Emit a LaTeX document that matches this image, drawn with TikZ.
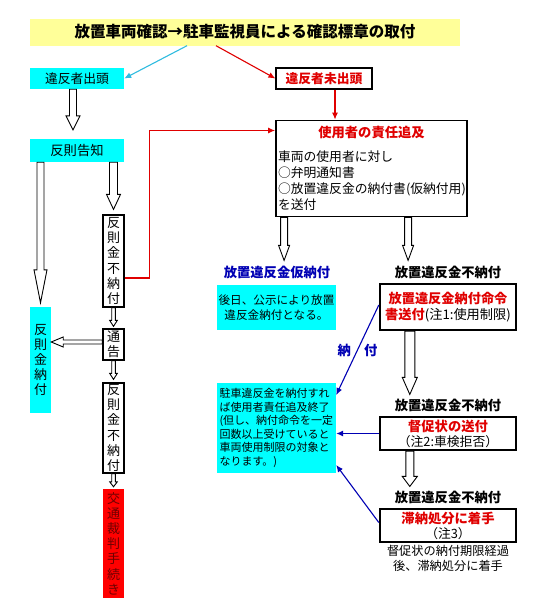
\documentclass[tikz,border=0pt]{standalone}
\usepackage{fontspec}
\setmainfont{Noto Sans CJK JP}
\usetikzlibrary{arrows.meta,calc,positioning}

\definecolor{banner}{HTML}{FFFF99}
\definecolor{aqua}{HTML}{00FFFF}
\definecolor{navy}{HTML}{0000B4}
\definecolor{alert}{HTML}{E00000}
\definecolor{sky}{HTML}{30BCE0}
\definecolor{darkred}{HTML}{700000}

\newcommand\ftitle{\fontsize{15.5}{18}\selectfont}
\newcommand\fbody{\fontsize{12.8}{16}\selectfont}
\newcommand\fvert{\fontsize{13}{15.2}\selectfont}
\newcommand\fsmall{\fontsize{11}{13.5}\selectfont}
\newcommand\fhead{\fontsize{13.3}{16}\selectfont}

\tikzset{
  hshaft/.store in=\hshaft, hhead/.store in=\hhead, hlen/.store in=\hlen,
  hshaft=3pt, hhead=7pt, hlen=14pt,
  hollow/.style={draw, fill=white, line width=0.9pt, line join=miter, to path={
    let \p1=(\tikztostart), \p2=(\tikztotarget), \n1={atan2(\y2-\y1,\x2-\x1)} in
    ($(\p1)+({\n1+90}:\hshaft)$) -- ($(\p2)+({\n1+180}:\hlen)+({\n1+90}:\hshaft)$)
    -- ($(\p2)+({\n1+180}:\hlen)+({\n1+90}:\hhead)$) -- (\p2)
    -- ($(\p2)+({\n1+180}:\hlen)+({\n1-90}:\hhead)$)
    -- ($(\p2)+({\n1+180}:\hlen)+({\n1-90}:\hshaft)$)
    -- ($(\p1)+({\n1-90}:\hshaft)$) -- cycle}}
}

\begin{document}
\begin{tikzpicture}[x=1pt, y=-1pt,
    every node/.style={font=\fbody},
    cbox/.style={fill=aqua, inner sep=0pt, align=center},
    frame/.style={draw, line width=1.2pt, fill=white, inner sep=0pt, align=center},
    heavy/.style={draw, line width=2.4pt, fill=white, inner sep=0pt, align=center},
    vert/.style={minimum width=21pt, font=\fvert},
    label/.style={font=\fhead\bfseries, inner sep=1pt},
    arr/.style={-{Latex[length=7pt,width=6pt]}, line width=1.1pt}
]
\fill[white] (0,0) rectangle (540,605);
\useasboundingbox (0,0) rectangle (540,605);

\node[fill=banner, minimum width=430pt, minimum height=27pt, font=\ftitle\bfseries] (title) at (245,32) {放置車両確認→駐車監視員による確認標章の取付};

\node[cbox, minimum width=94pt, minimum height=21pt] (appear) at (77,78.5) {違反者出頭};
\node[frame, minimum width=96pt, minimum height=21pt, text=alert, font=\fbody\bfseries] (noappear) at (324,78.5) {違反者未出頭};
\node[cbox, minimum width=94pt, minimum height=23pt, font=\fontsize{13.3}{16}\selectfont] (notice) at (77,150.5) {反則告知};

\node[draw, line width=1.8pt, minimum width=191pt, minimum height=96pt, text width=187pt, align=left, inner sep=1.5pt] (owner) at (371.5,168.5)
  {\makebox[187pt]{\textcolor{alert}{\fhead\bfseries 使用者の責任追及}}\\[8pt]
   車両の使用者に対し\\○弁明通知書\\○放置違反金の納付書(仮納付用)\\を送付};

\node[frame, vert, minimum height=92pt] (unpaid1) at (113.5,261) {反\\則\\金\\不\\納\\付};
\node[cbox, vert, minimum height=106pt] (paid) at (40.5,360) {反\\則\\金\\納\\付};
\node[frame, vert, minimum height=31pt] (notify) at (113.5,344.5) {通\\告};
\node[frame, vert, minimum height=90pt] (unpaid2) at (113.5,428) {反\\則\\金\\不\\納\\付};
\node[fill=red, text=darkred, inner sep=0pt, align=center, vert, minimum height=109pt] (court) at (113.5,543.5) {交\\通\\裁\\判\\手\\続\\き};

\node[label, text=navy] (provpaid) at (277,272) {放置違反金仮納付};
\node[label] (unpaidA) at (448,272) {放置違反金不納付};
\node[cbox, minimum width=119pt, minimum height=45pt, font=\fontsize{11.6}{14.5}\selectfont] (public) at (276.5,307.5) {後日、公示により放置\\違反金納付となる。};
\node[heavy, minimum width=136pt, minimum height=46pt, font=\fontsize{13.2}{16}\selectfont] (order) at (448,307)
  {\textcolor{alert}{\bfseries 放置違反金納付命令}\\\textcolor{alert}{\bfseries 書送付}(注1:使用制限)};
\node[label] (unpaidB) at (448,405) {放置違反金不納付};
\node[heavy, minimum width=136pt, minimum height=33pt, font=\fontsize{12.8}{15}\selectfont] (remind) at (448,433.5) {\textcolor{alert}{\bfseries\fhead 督促状の送付}\\（注2:車検拒否）};
\node[label] (unpaidC) at (448,497) {放置違反金不納付};
\node[heavy, minimum width=136pt, minimum height=33pt, font=\fontsize{12.8}{15}\selectfont] (seize) at (448,525.5) {\textcolor{alert}{\bfseries\fhead 滞納処分に着手}\\（注3）};
\node[align=center, inner sep=0pt, font=\fontsize{12.2}{15}\selectfont] (deadline) at (448,558) {督促状の納付期限経過\\後、滞納処分に着手};
\node[cbox, minimum width=119pt, minimum height=90pt, text width=114pt, align=left, font=\fsmall] (settle) at (276.5,428)
  {駐車違反金を納付すれ\\ば使用者責任追及終了\\(但し、納付命令を一定\\回数以上受けていると\\車両使用制限の対象と\\なります。)};

\draw[arr, sky] ([xshift=-58pt]title.south) -- (appear.east);
\draw[arr, alert] ([xshift=-29pt]title.south) -- (noappear.west);
\draw[arr, alert] ([xshift=11pt]noappear.south) -- ([xshift=11pt]noappear.south |- owner.north);
\draw[arr, alert] ([yshift=-17pt]unpaid1.east) -- ++(25pt,0) |- ([yshift=38pt]owner.west);

\draw[hollow, hshaft=3.5pt, hhead=7pt, hlen=14pt] ([xshift=-4pt]appear.south) to ([xshift=-4pt, yshift=9pt]appear.south |- notice.north);
\draw[hollow, hshaft=3.5pt, hhead=6.5pt, hlen=33pt] (notice.south -| paid.north) to ([yshift=4pt]paid.north);
\draw[hollow, hshaft=4pt, hhead=7pt, hlen=15pt] (notice.south -| unpaid1.north) to ([yshift=5pt]unpaid1.north);
\draw[hollow, hshaft=1.8pt, hhead=3.8pt, hlen=6pt] (unpaid1.south) to ([yshift=2pt]notify.north);
\draw[hollow, hshaft=2pt, hhead=5pt, hlen=12pt] ([yshift=2.5pt]notify.west) to ([yshift=2.5pt]notify.west -| paid.east);
\draw[hollow, hshaft=1.8pt, hhead=3.8pt, hlen=6pt] (notify.south) to ([yshift=3pt]unpaid2.north);
\draw[hollow, hshaft=1.8pt, hhead=3.8pt, hlen=5pt] (unpaid2.south) to ([yshift=2pt]court.north);

\coordinate (ownL) at ($(owner.south west)+(9,0)$);
\coordinate (ownR) at ($(owner.south west)+(133,0)$);
\coordinate (ordL) at ($(order.south west)+(31,0)$);
\coordinate (remL) at ($(remind.south west)+(31,0)$);
\draw[hollow, hshaft=3.5pt, hhead=5.5pt, hlen=15pt] (ownL) to ([yshift=4pt]ownL |- provpaid.north);
\draw[hollow, hshaft=3.5pt, hhead=5.5pt, hlen=15pt] (ownR) to ([yshift=4pt]ownR |- unpaidA.north);
\draw[hollow, hshaft=5pt, hhead=7.5pt, hlen=17pt] (ordL) to ([yshift=3pt]ordL |- unpaidB.north);
\draw[hollow, hshaft=4pt, hhead=7.5pt, hlen=10pt] (remL) to ([yshift=3pt]remL |- unpaidC.north);

\draw[arr, navy] ([yshift=2pt]order.west) -- node[font=\fhead\bfseries, text=navy] {納　付} ([yshift=33pt]settle.east);
\draw[arr, navy] (remind.west) -- (remind.west -| settle.east);
\draw[arr, navy] ([yshift=3pt]seize.west) -- ([yshift=-37pt]settle.east);
\end{tikzpicture}
\end{document}
